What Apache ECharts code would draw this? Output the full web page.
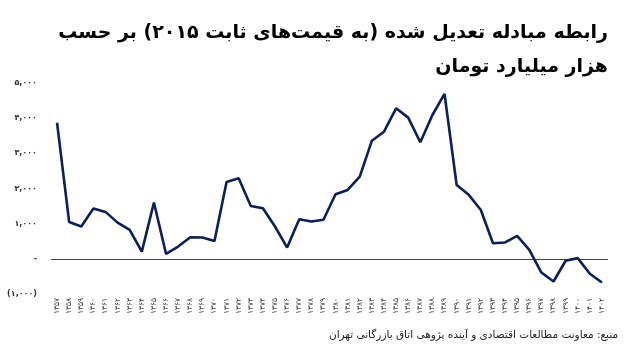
<!DOCTYPE html>
<html>
<head>
<meta charset="utf-8">
<script src="https://cdn.jsdelivr.net/npm/echarts@6/dist/echarts.min.js"></script>
<style>
  html, body { margin: 0; padding: 0; background: #fff; }
  #chart { width: 624px; height: 351px; direction: rtl; }
</style>
</head>
<body>
<div id="chart"></div>
<script>
// years 1357..1402 (solar hijri)
const years = [];
for (let y = 1357; y <= 1402; y++) years.push(y);

// adjusted terms of trade, thousand billion toman (2015 prices)
const values = [
  3870, 1045, 920, 1430, 1335, 1030, 825, 205, 1600, 140,
  350, 615, 605, 510, 2185, 2290, 1505, 1440, 920, 320,
  1125, 1060, 1110, 1835, 1960, 2340, 3360, 3615, 4280, 4015,
  3315, 4090, 4690, 2100, 1820, 1390, 445, 465, 655, 255,
  -390, -645, -55, 20, -425, -675
];

const yMin = -1000;
const yMax = 5000;
const yStep = 1000;

const titleLines = [
  'رابطه مبادله تعدیل شده (به قیمت‌های ثابت ۲۰۱۵) بر حسب',
  'هزار میلیارد تومان'
];
const sourceText = 'منبع: معاونت مطالعات اقتصادی و آینده پژوهی اتاق بازرگانی تهران';

const faDigits = '۰۱۲۳۴۵۶۷۸۹';
function toFa(s) {
  return String(s).replace(/[0-9]/g, d => faDigits[+d]);
}
function fmtY(v) {
  if (v === 0) return '-';
  const abs = Math.abs(v).toLocaleString('en-US');
  return v < 0 ? '(' + toFa(abs) + ')' : toFa(abs);
}

const titleStyle = {
  fontFamily: 'DejaVu Sans',
  fontSize: 19,
  fontWeight: 'bold',
  color: '#000'
};

const chart = echarts.init(document.getElementById('chart'));

chart.setOption({
  animation: false,
  title: [
    { text: titleLines[0], right: 16, top: 24, padding: 0, textStyle: titleStyle },
    { text: titleLines[1], right: 16, top: 58, padding: 0, textStyle: titleStyle },
    {
      text: sourceText,
      right: 6,
      top: 330,
      padding: 0,
      textStyle: {
        fontFamily: 'DejaVu Sans',
        fontSize: 10.5,
        fontWeight: 'normal',
        color: '#222'
      }
    }
  ],
  grid: {
    left: 51,
    right: 16,
    top: 83,
    bottom: 57,
    containLabel: false
  },
  xAxis: {
    type: 'category',
    data: years,
    boundaryGap: true,
    axisLine: { show: false, onZero: false },
    axisTick: { show: false },
    axisLabel: {
      rotate: 90,
      interval: 0,
      margin: 4,
      fontFamily: 'DejaVu Sans',
      fontSize: 7.5,
      color: '#333',
      formatter: v => toFa(v)
    }
  },
  yAxis: {
    type: 'value',
    min: yMin,
    max: yMax,
    interval: yStep,
    axisLine: { show: false },
    axisTick: { show: false },
    splitLine: { show: false },
    axisLabel: {
      margin: 14,
      fontFamily: 'DejaVu Sans',
      fontSize: 8,
      fontWeight: 'bold',
      color: '#333',
      formatter: fmtY
    }
  },
  series: [{
    type: 'line',
    data: values,
    showSymbol: false,
    lineStyle: { color: '#0b1f5a', width: 2.6 },
    itemStyle: { color: '#0b1f5a' },
    markLine: {
      silent: true,
      symbol: 'none',
      label: { show: false },
      lineStyle: { color: '#444', width: 1.2, type: 'solid' },
      data: [{ yAxis: 0 }],
      z: 1
    }
  }]
});
</script>
</body>
</html>
